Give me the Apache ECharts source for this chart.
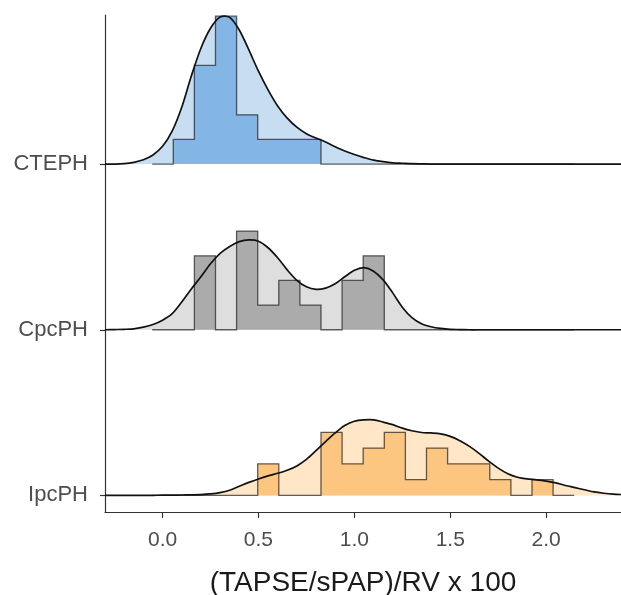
<!DOCTYPE html>
<html>
<head>
<meta charset="utf-8">
<script src="https://cdn.jsdelivr.net/npm/echarts@6/dist/echarts.min.js"></script>
<style>
html,body{margin:0;padding:0;background:#fff;}
#chart{width:621px;height:595px;}
</style>
</head>
<body>
<div id="chart"></div>
<script>
// ---- data ----
const categories = ['IpcPH', 'CpcPH', 'CTEPH']; // bottom to top
const xTicks = [0, 0.5, 1.0, 1.5, 2.0];
const xTitle = '(TAPSE/sPAP)/RV x 100';

// histogram bins (shared): start and width
const binStart = -0.054;
const binWidth = 0.11;
const countsCTEPH = [0,1,4,6,2,1,1,1,0,0,0,0,0,0,0,0,0,0,0,0];
const countsCpcPH = [0,0,3,0,4,1,2,1,0,2,3,0,0,0,0,0,0,0,0,0];
const countsIpcPH = [0,0,0,0,0,2,0,0,4,2,3,4,1,3,2,2,1,0,1,0];

// density curves: shared x grid, density values per group
const xGrid = [-0.30,-0.25,-0.20,-0.15,-0.10,-0.05,0.00,0.05,0.10,0.15,0.20,0.25,0.30,0.35,0.40,0.45,0.50,0.55,0.60,0.65,0.70,0.75,0.80,0.85,0.90,0.95,1.00,1.05,1.10,1.15,1.20,1.25,1.30,1.35,1.40,1.45,1.50,1.55,1.60,1.65,1.70,1.75,1.80,1.85,1.90,1.95,2.00,2.05,2.10,2.15,2.20,2.25,2.30,2.35,2.40];
const dCTEPH = [0,0,0.01,0.04,0.10,0.21,0.41,0.76,1.31,2.03,2.67,3.13,3.39,3.38,3.09,2.63,2.14,1.71,1.34,1.06,0.85,0.70,0.60,0.51,0.40,0.30,0.22,0.15,0.09,0.055,0.03,0.02,0.01,0.005,0,0,0,0,0,0,0,0,0,0,0,0,0,0,0,0,0,0,0,0,0];
const dCpcPH = [0,0.005,0.01,0.02,0.06,0.12,0.22,0.37,0.64,0.94,1.22,1.52,1.76,1.92,2.03,2.07,2.04,1.89,1.66,1.38,1.14,0.99,0.93,0.96,1.06,1.22,1.37,1.43,1.35,1.15,0.85,0.52,0.28,0.14,0.07,0.03,0.01,0.005,0,0,0,0,0,0,0,0,0,0,0,0,0,0,0,0,0];
const dIpcPH = [0,0,0,0.001,0.002,0.003,0.005,0.007,0.01,0.014,0.02,0.035,0.065,0.12,0.21,0.30,0.38,0.45,0.51,0.58,0.68,0.83,1.03,1.24,1.44,1.61,1.71,1.74,1.74,1.69,1.63,1.55,1.49,1.45,1.44,1.42,1.36,1.26,1.13,0.97,0.79,0.63,0.50,0.42,0.38,0.36,0.33,0.29,0.23,0.18,0.13,0.08,0.05,0.03,0.02];

// ridge height per unit density
const ridgeScale = 0.262;

const groups = [
  {name:'CTEPH', base:3, ds:dCTEPH, counts:countsCTEPH, densFill:'#c6ddf2', histFill:'#83b6e4'},
  {name:'CpcPH', base:2, ds:dCpcPH, counts:countsCpcPH, densFill:'#dedede', histFill:'#ababab'},
  {name:'IpcPH', base:1, ds:dIpcPH, counts:countsIpcPH, densFill:'#fee6c7', histFill:'#fcc680'}
];

function makeSeries(g) {
  const n = g.counts.reduce((a, b) => a + b, 0);
  return {
    type: 'custom',
    clip: true,
    data: [[0]],
    silent: true,
    renderItem: function (params, api) {
      const base = g.base;
      const densPts = xGrid.map((x, i) => api.coord([x, base + g.ds[i] * ridgeScale]));
      const densPoly = densPts.slice();
      densPoly.push(api.coord([xGrid[xGrid.length - 1], base]));
      densPoly.push(api.coord([xGrid[0], base]));
      const histPts = [api.coord([binStart, base])];
      g.counts.forEach((c, i) => {
        const h = base + c / (n * binWidth) * ridgeScale;
        const x0 = binStart + i * binWidth;
        const x1 = x0 + binWidth;
        histPts.push(api.coord([x0, h]));
        histPts.push(api.coord([x1, h]));
      });
      histPts.push(api.coord([binStart + g.counts.length * binWidth, base]));
      return {
        type: 'group',
        children: [
          {type:'polygon', shape:{points:densPoly}, style:{fill:g.densFill, stroke:null}},
          {type:'polygon', shape:{points:histPts}, style:{fill:g.histFill, stroke:null}},
          {type:'polyline', shape:{points:histPts}, style:{fill:null, stroke:'rgba(35,35,35,0.72)', lineWidth:1.3}},
          {type:'polyline', shape:{points:densPts, smooth:0.3}, style:{fill:null, stroke:'#111', lineWidth:1.7}}
        ]
      };
    }
  };
}

const chart = echarts.init(document.getElementById('chart'), null, {renderer:'canvas'});
const fontFam = '"Liberation Sans", Arial, Helvetica, sans-serif';
chart.setOption({
  animation: false,
  backgroundColor: '#ffffff',
  grid: {left: 105, right: 0, top: 15, bottom: 83, containLabel: false, outerBoundsMode: 'none'},
  xAxis: {
    type: 'value', min: -0.3, max: 2.39,
    name: xTitle, nameLocation: 'middle', nameGap: 57,
    nameTextStyle: {fontSize: 28, color: '#1a1a1a', fontFamily: fontFam},
    axisLine: {show: true, onZero: false, lineStyle: {color: '#333', width: 1.2}},
    axisTick: {show: true, length: 6, customValues: xTicks, lineStyle: {color: '#333', width: 1.2}},
    axisLabel: {show: true, customValues: xTicks, margin: 18, fontSize: 21, color: '#4d4d4d', fontFamily: fontFam,
      formatter: v => Number(v).toFixed(1)},
    splitLine: {show: false}
  },
  yAxis: {
    type: 'value', min: 0.9, max: 3.9,
    axisLine: {show: true, onZero: false, lineStyle: {color: '#333', width: 1.2}},
    axisTick: {show: true, length: 5, customValues: [1, 2, 3], lineStyle: {color: '#333', width: 1.2}},
    axisLabel: {show: true, customValues: [1, 2, 3], margin: 17, fontSize: 22, color: '#4d4d4d', fontFamily: fontFam,
      formatter: v => categories[Math.round(v) - 1]},
    splitLine: {show: false}
  },
  series: groups.map(makeSeries)
});
</script>
</body>
</html>
